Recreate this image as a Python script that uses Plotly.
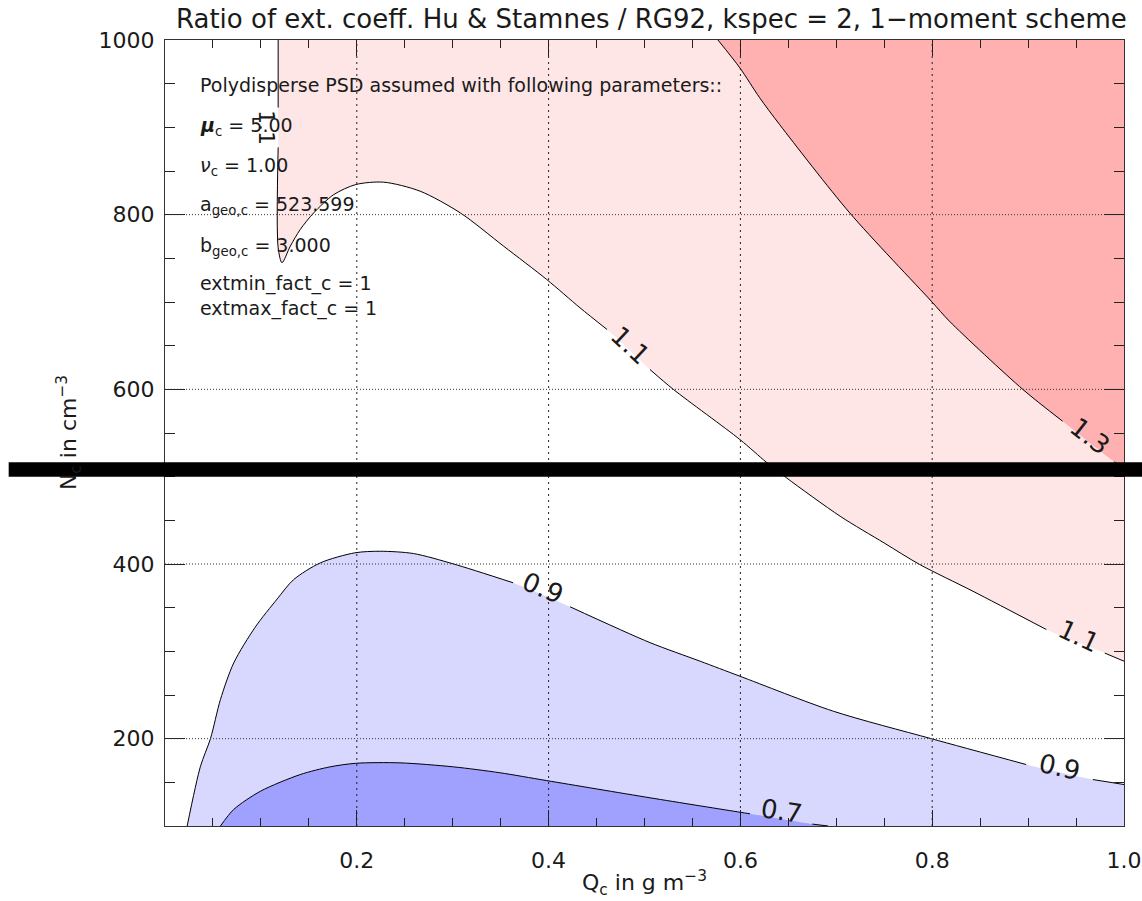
import plotly.graph_objects as go

# Contour levels of the extinction-coefficient ratio
levels = [0.7, 0.9, 1.1, 1.3]

# Contour lines, each split into visible pieces (gaps are where the level labels sit)
c07_pieces = [
    ([0.0578, 0.0717, 0.0995, 0.141, 0.172, 0.199, 0.245, 0.301, 0.349, 0.398, 0.5057, 0.5995, 0.61],
     [100, 119, 139.8, 158.9, 167.7, 171.8, 172.3, 167.7, 161, 152, 132.3, 115.8, 114]),
    ([0.675, 0.6915], [102.2, 100]),
]
c09_pieces = [
    ([0.0231, 0.037, 0.0474, 0.0578, 0.0717, 0.094, 0.117, 0.134, 0.162, 0.198, 0.2245, 0.259, 0.301, 0.363],
     [100, 168.4, 200, 244.8, 286.8, 327.6, 360, 382, 401.3, 412.8, 414.6, 412, 400, 378.5]),
    ([0.4224, 0.5057, 0.558, 0.5995, 0.697, 0.799, 0.898],
     [351, 310, 288.7, 271.5, 231.4, 200, 170.4]),
    ([0.9675, 1.0], [153.2, 147.5]),
]
c11_pieces = [
    ([0.118, 0.118], [1000, 922.7]),
    ([0.118, 0.118, 0.122, 0.1307, 0.141, 0.155, 0.176, 0.199, 0.228, 0.266, 0.308, 0.353, 0.398, 0.4328, 0.461],
     [877, 762, 745, 764, 783, 802, 823, 834.5, 837.2, 826.9, 802, 764, 725.8, 693.3, 668.5]),
    ([0.5057, 0.530, 0.5995, 0.627, 0.648, 0.704, 0.75, 0.787, 0.8425, 0.919],
     [622.7, 600, 542.5, 516.6, 498.7, 454.7, 424, 399.4, 368.8, 325]),
    ([0.980, 1.0], [298, 288.7]),
]
c13_pieces = [
    ([0.5766, 0.5995, 0.620, 0.641, 0.714, 0.799, 0.818, 0.8946, 0.936],
     [1000, 968, 934, 903, 802, 701, 678, 599.8, 563.5]),
    ([0.99, 1.0], [517, 510]),
]

# Level labels: (level, x, y, angle, size)
contour_labels = [
    (1.1, 0.1057, 900, 90, 22),
    (1.1, 0.485, 651, 43, 26),
    (1.1, 0.9526, 317, 25, 26),
    (1.3, 0.964, 546, 38, 26),
    (0.9, 0.394, 372, 23, 26),
    (0.9, 0.9328, 168, 12, 26),
    (0.7, 0.643, 117.6, 9, 26),
]

x_ticks = [0.2, 0.4, 0.6, 0.8, 1.0]
x_tick_text = ["0.2", "0.4", "0.6", "0.8", "1.0"]
y_ticks = [200, 400, 600, 800, 1000]
x_range = [0.0, 1.0]
y_range = [100, 1000]

param_lines = [
    "Polydisperse PSD assumed with following parameters::",
    "<b><i>\u03bc</i></b><sub>c</sub> = 5.00",
    "<i>\u03bd</i><sub>c</sub> = 1.00",
    "a<sub>geo,c</sub> = 523.599",
    "b<sub>geo,c</sub> = 3.000",
    "extmin_fact_c = 1<br>extmax_fact_c = 1",
]
param_y = [948, 901, 855.5, 810, 764, 706.5]

band_colors = {
    "lt07": "#a0a0ff",
    "lt09": "#d8d8ff",
    "gt11": "#ffe6e6",
    "gt13": "#ffb0b0",
}

FONT = "DejaVu Sans"
TXT = "#1a1a1a"


def joined(pieces):
    xs, ys = [], []
    for px, py in pieces:
        xs += list(px)
        ys += list(py)
    return xs, ys


def line_path(pieces):
    xs, ys = [], []
    for px, py in pieces:
        xs += list(px) + [None]
        ys += list(py) + [None]
    return xs, ys


def no_line():
    return dict(width=0, shape="spline", smoothing=0.8)


fig = go.Figure()

# band above 1.1: between the top edge and the 1.1 contour
x11, y11 = joined(c11_pieces)
fig.add_trace(go.Scatter(x=[x11[0], x_range[1]], y=[y_range[1], y_range[1]], mode="lines",
                         line=dict(width=0), hoverinfo="skip", showlegend=False))
fig.add_trace(go.Scatter(x=x11, y=y11, mode="lines", line=no_line(), fill="tonexty",
                         fillcolor=band_colors["gt11"], hoverinfo="skip", showlegend=False))

# band above 1.3
x13, y13 = joined(c13_pieces)
fig.add_trace(go.Scatter(x=[x13[0], x_range[1]], y=[y_range[1], y_range[1]], mode="lines",
                         line=dict(width=0), hoverinfo="skip", showlegend=False))
fig.add_trace(go.Scatter(x=x13, y=y13, mode="lines", line=no_line(), fill="tonexty",
                         fillcolor=band_colors["gt13"], hoverinfo="skip", showlegend=False))

# bands below 0.9 and below 0.7
x09, y09 = joined(c09_pieces)
fig.add_trace(go.Scatter(x=x09, y=y09, mode="lines", line=no_line(), fill="tozeroy",
                         fillcolor=band_colors["lt09"], hoverinfo="skip", showlegend=False))
x07, y07 = joined(c07_pieces)
fig.add_trace(go.Scatter(x=x07, y=y07, mode="lines", line=no_line(), fill="tozeroy",
                         fillcolor=band_colors["lt07"], hoverinfo="skip", showlegend=False))

# contour lines
for pieces in (c07_pieces, c09_pieces, c11_pieces, c13_pieces):
    lx, ly = line_path(pieces)
    fig.add_trace(go.Scatter(x=lx, y=ly, mode="lines",
                             line=dict(color="black", width=1, shape="spline", smoothing=0.8),
                             hoverinfo="skip", showlegend=False))

shapes = []
# dotted grid
for xv in x_ticks[:-1]:
    shapes.append(dict(type="line", xref="x", yref="y", x0=xv, x1=xv, y0=y_range[0], y1=y_range[1],
                       line=dict(color="#222222", width=1, dash="2px,4px"), layer="above"))
for yv in y_ticks[:-1]:
    shapes.append(dict(type="line", xref="x", yref="y", x0=x_range[0], x1=x_range[1], y0=yv, y1=yv,
                       line=dict(color="#333333", width=1, dash="1px,2px"), layer="above"))
# heavy horizontal bar across the figure
shapes.append(dict(type="rect", xref="paper", yref="y", x0=-0.163, x1=1.02, y0=500, y1=516.5,
                   fillcolor="black", line=dict(width=0), layer="above"))

annotations = []
for lev, lx, ly, ang, sz in contour_labels:
    annotations.append(dict(x=lx, y=ly, xref="x", yref="y", text=f"{lev:.1f}", showarrow=False,
                            textangle=ang, font=dict(family=FONT, size=sz, color=TXT)))
for txt, yv in zip(param_lines, param_y):
    annotations.append(dict(x=0.034, y=yv, xref="paper", yref="y", text=txt, showarrow=False,
                            xanchor="left", yanchor="middle", align="left",
                            font=dict(family=FONT, size=19, color=TXT)))

# title and axis titles
annotations.append(dict(x=0.507, y=1.027, xref="paper", yref="paper", showarrow=False,
                        text="Ratio of ext. coeff. Hu &amp; Stamnes / RG92, kspec = 2, 1\u2212moment scheme",
                        xanchor="center", yanchor="middle", font=dict(family=FONT, size=26, color=TXT)))
annotations.append(dict(x=0.5, y=-0.072, xref="paper", yref="paper", showarrow=False,
                        text="Q<sub>c</sub> in g m<sup>\u22123</sup>",
                        xanchor="center", yanchor="middle", font=dict(family=FONT, size=22, color=TXT)))
annotations.append(dict(x=-0.1, y=0.5, xref="paper", yref="paper", showarrow=False,
                        text="N<sub>c</sub> in cm<sup>\u22123</sup>", textangle=-90,
                        xanchor="center", yanchor="middle", font=dict(family=FONT, size=22, color=TXT)))

axis_common = dict(
    ticks="inside", tickwidth=1, tickcolor="#222222",
    showline=True, linecolor="#333333", linewidth=1, mirror="allticks",
    showgrid=False, zeroline=False, automargin=False,
    tickfont=dict(family=FONT, size=22, color=TXT),
)

fig.update_layout(
    width=1142, height=901,
    margin=dict(l=165, r=18, t=40, b=75, autoexpand=False),
    paper_bgcolor="white", plot_bgcolor="white",
    xaxis=dict(range=x_range, tickmode="array", tickvals=x_ticks, ticktext=x_tick_text,
               ticklen=16, ticklabelstandoff=15,
               minor=dict(dtick=0.05, tick0=0, ticks="inside", ticklen=8, tickcolor="#222222", tickwidth=1),
               **axis_common),
    yaxis=dict(range=y_range, tickmode="array", tickvals=y_ticks,
               ticklen=20, ticklabelstandoff=5,
               minor=dict(dtick=50, tick0=0, ticks="inside", ticklen=10, tickcolor="#222222", tickwidth=1),
               **axis_common),
    shapes=shapes,
    annotations=annotations,
    showlegend=False,
)

fig.write_html("out.html")
